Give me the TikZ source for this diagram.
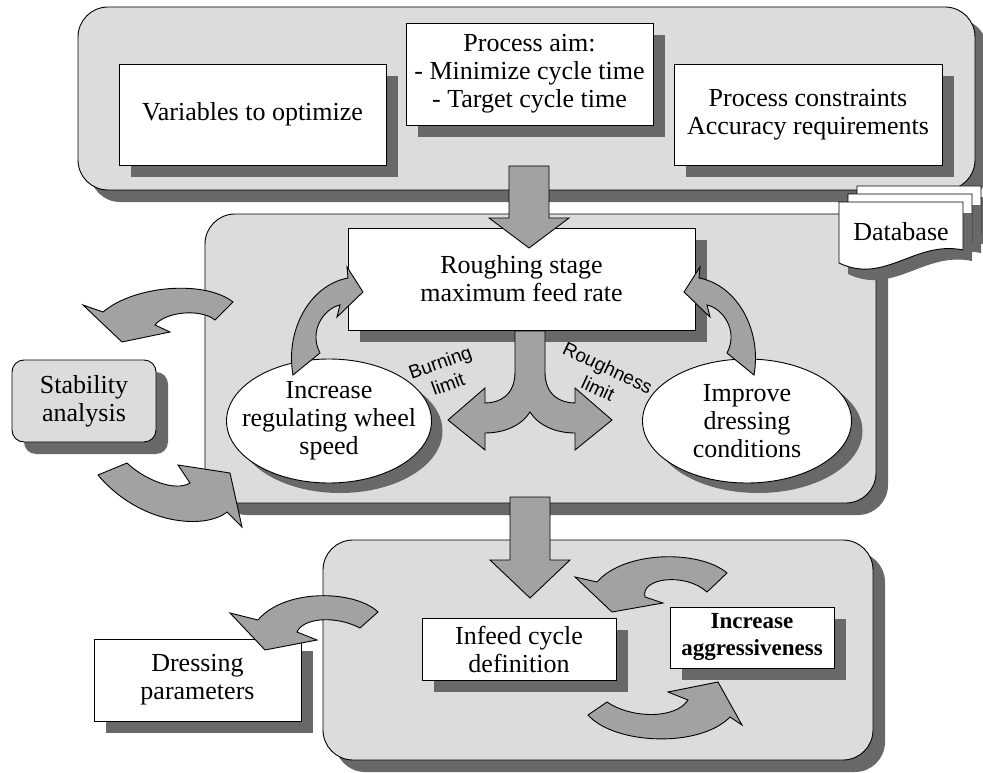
\documentclass[tikz,border=0pt]{standalone}
\usepackage{fontspec}
\setmainfont{Liberation Serif}
\setsansfont{Liberation Sans}
\usepackage{xcolor}
\usepackage{tikz}
\usetikzlibrary{shapes,arrows,shadows}
\definecolor{panelgray}{RGB}{220,220,220}
\definecolor{shadowgray}{RGB}{104,104,104}
\definecolor{arrowgray}{RGB}{162,162,162}
\tikzstyle{boxshadow} = [drop shadow={shadow xshift=12pt, shadow yshift=-12pt,
fill=shadowgray, opacity=1}]
\tikzstyle{panel} = [draw, rectangle, rounded corners=30pt, fill=panelgray, boxshadow]
\tikzstyle{block} = [draw, rectangle, fill=white, inner sep=0pt, text centered,
align=center, boxshadow]
\tikzstyle{softblock} = [block, rounded corners=12pt, fill=panelgray]
\tikzstyle{bubble} = [draw, ellipse, fill=white, inner xsep=-16pt, inner ysep=0pt,
align=center, drop shadow={shadow xshift=11pt, shadow yshift=-10pt,
fill=shadowgray, opacity=1}]
\tikzstyle{limitlabel} = [font=\sffamily\fontsize{19}{23}\selectfont, align=center,
inner sep=0pt]
\tikzstyle{bigarrow} = [draw, fill=arrowgray, line join=miter]
\newcommand{\droparrow}[4]{\filldraw [bigarrow] (#1-20,#2) -- (#1-20,#3) -- (#1-40,#3)
-- (#1,#4) -- (#1+40,#3) -- (#1+20,#3) -- (#1+20,#2) -- cycle;}
\newcommand{\docpage}[2]{%
\fill [shadowgray, shift={(#1+9,#2+11)}] (839,202) -- (963,202) -- (963,250)
.. controls (915,240) and (885,285) .. (839,263) -- cycle;
\filldraw [fill=white, shift={(#1,#2)}] (839,202) -- (963,202) -- (963,250)
.. controls (915,240) and (885,285) .. (839,263) -- cycle;}

\begin{document}
\begin{tikzpicture}[x=1pt, y=-1pt, line width=0.9pt, font=\fontsize{26}{28}\selectfont]
\useasboundingbox (0,0) rectangle (983,773);

% Place panels
\node [panel, minimum width=897pt, minimum height=183pt](goalpanel) at (526.5,98.5){};
\node [panel, minimum width=671pt, minimum height=289pt](roughpanel) at (540.5,358.5){};
\node [panel, minimum width=550pt, minimum height=220pt](infeedpanel) at (598,650){};

% Place nodes
\node [block, minimum width=267pt, minimum height=101pt](variables) at (252.5,114.5){Variables to optimize};
\node [block, minimum width=247pt, minimum height=102pt](aim) at (529.5,74){Process aim:\\- Minimize cycle time\\- Target cycle time};
\node [block, minimum width=268pt, minimum height=101pt](constraints) at (808,114.5){Process constraints\\Accuracy requirements};
\docpage{18}{-16}
\docpage{9}{-8}
\docpage{0}{0}
\node (database) at (901,232){Database};
\node [block, minimum width=347pt, minimum height=102pt](roughing) at (521.5,279){Roughing stage\\maximum feed rate};
\node [bubble, minimum width=205pt, minimum height=124pt](wheel) at (329,421){Increase\\regulating wheel\\speed};
\node [bubble, minimum width=209pt, minimum height=124pt](dressing) at (747,421){Improve\\dressing\\conditions};
\node [softblock, minimum width=144pt, minimum height=82pt](stability) at (84,401){Stability\\analysis};
\node [block, minimum width=194pt, minimum height=62pt](infeed) at (519,649){Infeed cycle\\definition};
\node [block, minimum width=164pt, minimum height=61pt, font=\bfseries\fontsize{23}{27}\selectfont](aggressive) at (752,637.5){Increase\\aggressiveness};
\node [block, minimum width=207pt, minimum height=82pt](dresspar) at (197.5,680){Dressing\\parameters};
\node [limitlabel, rotate=20](burning) at (444,373){Burning\\limit};
\node [limitlabel, rotate=-25](roughness) at (603,378){Roughness\\limit};

% Place arrows
\droparrow{529}{166}{218}{248}
\droparrow{530}{497}{560}{598}
% split below roughing stage
\filldraw [bigarrow] (515,331) -- (515,372) .. controls (515,395) and (500,403) .. (485,403)
-- (485,388) -- (448,420) -- (485,450) -- (485,433)
.. controls (505,433) and (522,425) .. (530,412)
.. controls (538,425) and (555,433) .. (575,433) -- (575,450) -- (612,420) -- (575,388)
-- (575,403) .. controls (560,403) and (545,395) .. (545,372) -- (545,331) -- cycle;
% back to roughing stage
\filldraw [bigarrow] (293,375) .. controls (285,330) and (310,285) .. (348,278) -- (347,267)
-- (363,292) -- (337,317) -- (340,305) .. controls (325,308) and (308,330) .. (320,353) -- cycle;
\filldraw [bigarrow] (754,375) .. controls (762,330) and (737,285) .. (699,278) -- (700,267)
-- (684,292) -- (710,317) -- (707,305) .. controls (722,308) and (739,330) .. (727,353) -- cycle;
% stability loop
\filldraw [bigarrow] (233,302) .. controls (205,280) and (135,285) .. (103,312) -- (83,305)
-- (122,342) -- (170,332) -- (155,325) .. controls (165,312) and (200,308) .. (215,320) -- cycle;
\filldraw [bigarrow] (98,475) .. controls (140,525) and (205,530) .. (227,512) -- (242,527)
-- (230,473) -- (178,465) -- (190,483) .. controls (175,492) and (145,480) .. (127,463) -- cycle;
% infeed loops
\filldraw [bigarrow] (378,612) .. controls (355,590) and (285,588) .. (258,620) -- (230,613)
-- (265,650) -- (317,640) -- (297,632) .. controls (303,618) and (335,615) .. (360,628) -- cycle;
\filldraw [bigarrow] (727,573) .. controls (700,550) and (625,550) .. (597,582) -- (575,577)
-- (612,612) -- (663,603) -- (645,597) .. controls (640,578) and (685,572) .. (707,592) -- cycle;
\filldraw [bigarrow] (588,715) .. controls (615,745) and (700,748) .. (730,717) -- (742,725)
-- (718,682) -- (668,692) -- (688,700) .. controls (675,720) and (630,718) .. (607,702) -- cycle;

\end{tikzpicture}
\end{document}
